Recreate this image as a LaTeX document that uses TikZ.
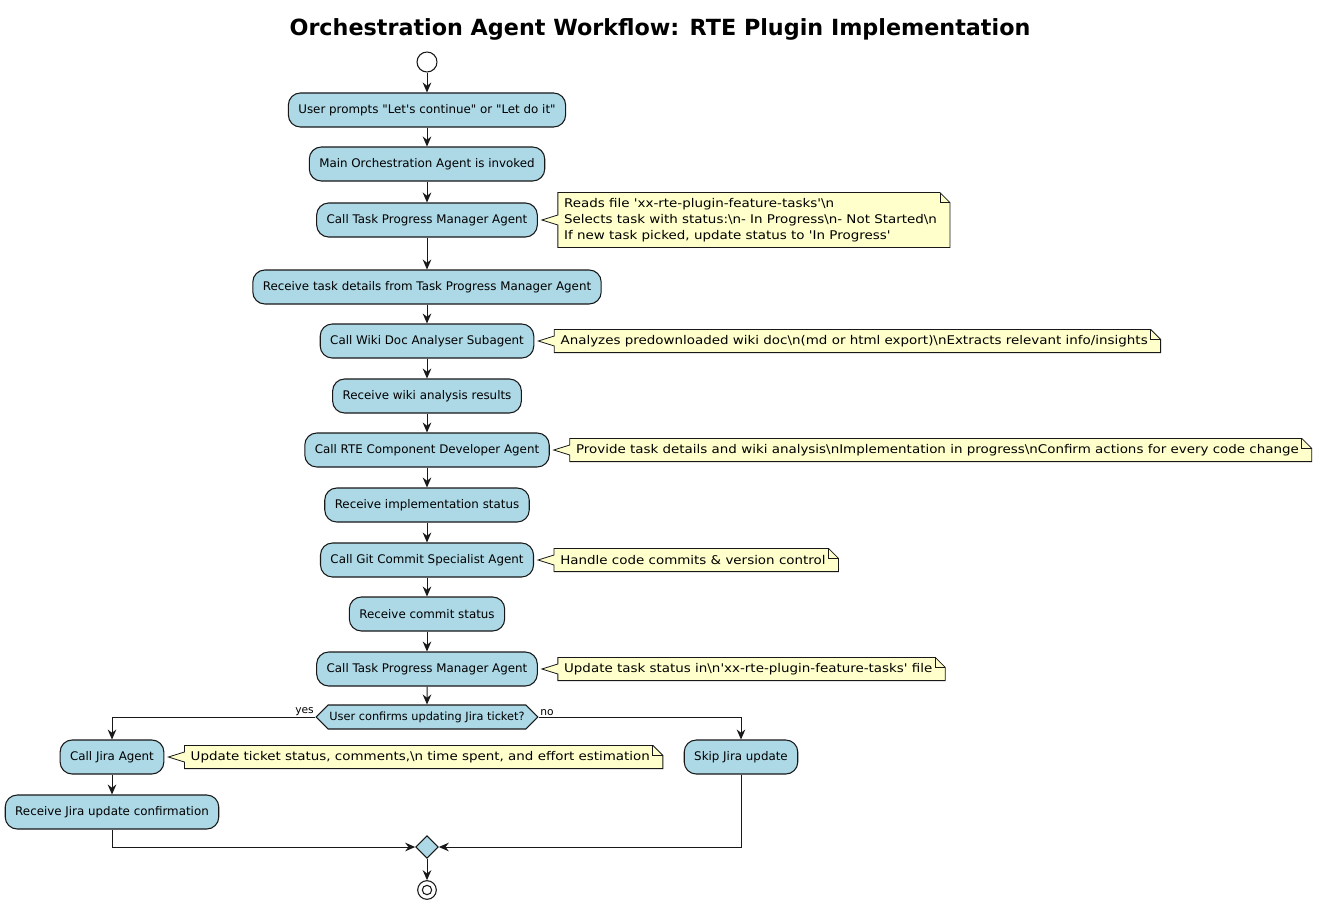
\documentclass[tikz,border=0pt]{standalone}
\usepackage{fontspec}
\usetikzlibrary{positioning,shapes.geometric,shapes.symbols,arrows.meta,backgrounds}
\setmainfont{DejaVu Sans}[Ligatures=TeXOff]
\newfontfamily\notefont{DejaVu Sans}[FakeStretch=1.12,Ligatures=TeXOff]
\definecolor{actblue}{HTML}{ADD8E6}
\definecolor{notebg}{HTML}{FFFFCC}
\definecolor{edgecol}{HTML}{181818}

\tikzset{
  act/.style={draw=edgecol, fill=actblue, line width=0.8pt, rounded corners=9pt,
    minimum height=25.5pt, inner xsep=7.5pt, font=\fontsize{8.9}{10}\selectfont},
  note/.style={inner xsep=4.5pt, inner ysep=4pt, minimum height=17pt, align=left,
    font=\notefont\fontsize{9}{12}\selectfont},
  noteline/.style={draw=edgecol, fill=notebg, line width=0.6pt},
  flow/.style={draw=edgecol, line width=0.75pt, -{Stealth[length=7.5pt,width=6.5pt,inset=2.5pt]}},
  lbl/.style={inner sep=1pt, font=\fontsize{8}{9}\selectfont}
}

% note outline with folded corner and pointer
\newcommand{\notelink}[2]{%
  \draw[noteline] (#2.north west) -- ([xshift=-2.5pt]#2.north east)
    -- ([xshift=5pt,yshift=-7.5pt]#2.north east) -- ([xshift=5pt]#2.south east) -- (#2.south west)
    -- ([yshift=-3.75pt]#2.west) -- ([xshift=3pt]#1.east)
    -- ([yshift=3.75pt]#2.west) -- cycle;
  \draw[draw=edgecol, line width=0.6pt] ([xshift=-2.5pt]#2.north east)
    |- ([xshift=5pt,yshift=-7.5pt]#2.north east);}

\begin{document}
\begin{tikzpicture}[x=0.75pt, y=-0.75pt]
  \useasboundingbox (0,0) rectangle (1320,906);

  \node[anchor=base, font=\bfseries\fontsize{16.7}{20}\selectfont] (title) at (660,36)
    {Orchestration Agent Workflow: RTE Plugin Implementation};

  \node[circle, draw=edgecol, fill=white, line width=0.8pt, minimum size=15pt, inner sep=0pt] (s) at (427,62) {};
  \node[act] (a1) at (427,110) {User prompts "Let's continue" or "Let do it"};
  \node[act] (a2) at (427,164) {Main Orchestration Agent is invoked};
  \node[act] (a3) at (427,220) {Call Task Progress Manager Agent};
  \node[act] (a4) at (427,287) {Receive task details from Task Progress Manager Agent};
  \node[act] (a5) at (427,341) {Call Wiki Doc Analyser Subagent};
  \node[act] (a6) at (427,396) {Receive wiki analysis results};
  \node[act] (a7) at (427,450) {Call RTE Component Developer Agent};
  \node[act] (a8) at (427,505) {Receive implementation status};
  \node[act] (a9) at (427,560) {Call Git Commit Specialist Agent};
  \node[act] (a10) at (427,614) {Receive commit status};
  \node[act] (a11) at (427,669) {Call Task Progress Manager Agent};
  \node[signal, signal to=west and east, signal pointer angle=90, draw=edgecol, fill=actblue,
    line width=0.8pt, minimum height=18pt, inner xsep=1pt, inner ysep=1pt,
    font=\fontsize{8.5}{10}\selectfont] (d) at (427,717) {User confirms updating Jira ticket?};
  \node[act] (j1) at (112,757) {Call Jira Agent};
  \node[act] (j2) at (112,812) {Receive Jira update confirmation};
  \node[act] (sk) at (741,757) {Skip Jira update};
  \node[diamond, draw=edgecol, fill=actblue, line width=0.8pt, minimum size=17pt, inner sep=0pt] (m) at (427,847) {};
  \node[circle, draw=edgecol, line width=0.8pt, minimum size=14pt, inner sep=0pt] (e) at (427,890) {};
  \node[circle, draw=edgecol, line width=0.8pt, minimum size=7pt, inner sep=0pt] at (e) {};

  \node[note, right=15pt of a3] (n1) {Reads file 'xx-rte-plugin-feature-tasks'\textbackslash n\\
    Selects task with status:\textbackslash n- In Progress\textbackslash n- Not Started\textbackslash n\\
    If new task picked, update status to 'In Progress'};
  \node[note, right=15pt of a5] (n2) {Analyzes predownloaded wiki doc\textbackslash n(md or html export)\textbackslash nExtracts relevant info/insights};
  \node[note, right=15pt of a7] (n3) {Provide task details and wiki analysis\textbackslash nImplementation in progress\textbackslash nConfirm actions for every code change};
  \node[note, right=15pt of a9] (n4) {Handle code commits \& version control};
  \node[note, right=15pt of a11] (n5) {Update task status in\textbackslash n'xx-rte-plugin-feature-tasks' file};
  \node[note, right=15pt of j1] (n6) {Update ticket status, comments,\textbackslash n time spent, and effort estimation};

  \begin{scope}[on background layer]
    \notelink{a3}{n1}
    \notelink{a5}{n2}
    \notelink{a7}{n3}
    \notelink{a9}{n4}
    \notelink{a11}{n5}
    \notelink{j1}{n6}
  \end{scope}

  \draw[flow] (s) -- (a1);
  \draw[flow] (a1) -- (a2);
  \draw[flow] (a2) -- (a3);
  \draw[flow] (a3) -- (a4);
  \draw[flow] (a4) -- (a5);
  \draw[flow] (a5) -- (a6);
  \draw[flow] (a6) -- (a7);
  \draw[flow] (a7) -- (a8);
  \draw[flow] (a8) -- (a9);
  \draw[flow] (a9) -- (a10);
  \draw[flow] (a10) -- (a11);
  \draw[flow] (a11) -- (d);
  \draw[flow] (d.west) -| (j1.north);
  \draw[flow] (d.east) -| (sk.north);
  \draw[flow] (j1) -- (j2);
  \draw[flow] (j2.south) |- (m.west);
  \draw[flow] (sk.south) |- (m.east);
  \draw[flow] (m) -- (e);
  \node[lbl, anchor=south east] (yes) at (d.west) {yes};
  \node[lbl, anchor=south west] (no) at (d.east) {no};
\end{tikzpicture}
\end{document}
